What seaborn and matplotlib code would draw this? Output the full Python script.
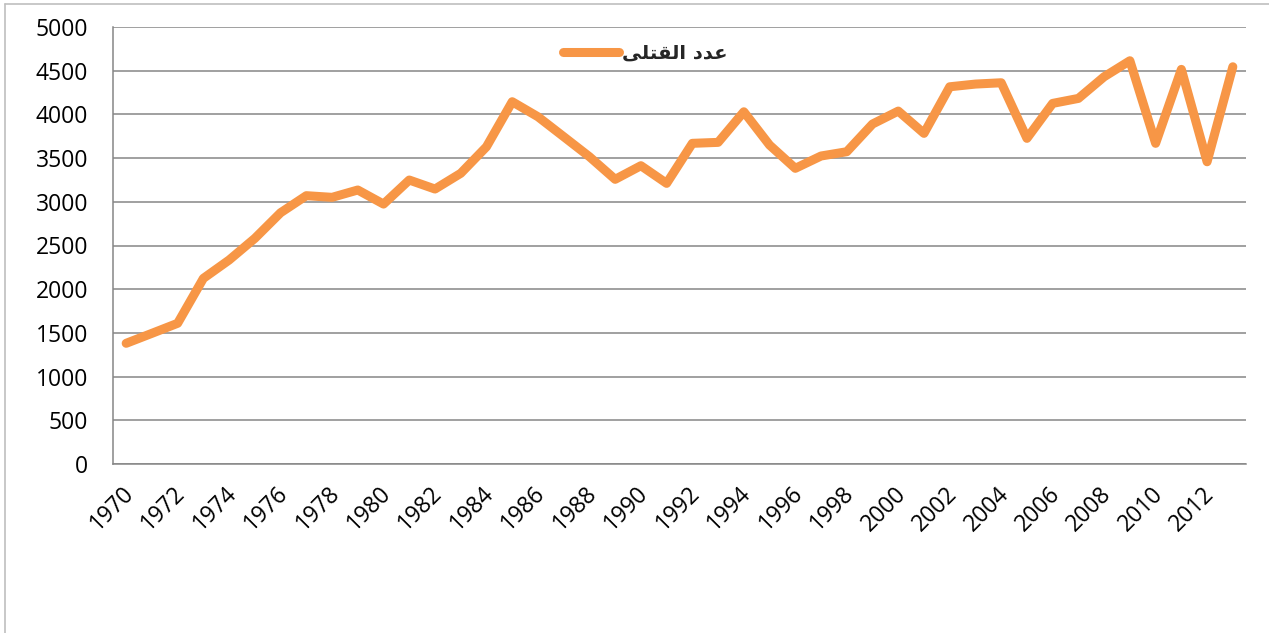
import matplotlib
matplotlib.use("Agg")
import matplotlib.pyplot as plt
import matplotlib.transforms as mtransforms
import seaborn as sns
import pandas as pd
from matplotlib.lines import Line2D

years = list(range(1970, 2014))
deaths = [1381, 1495, 1610, 2124, 2334, 2582, 2875, 3070, 3051, 3135,
          2974, 3249, 3146, 3326, 3630, 4145, 3973, 3745, 3516, 3257,
          3413, 3211, 3669, 3680, 4030, 3649, 3383, 3524, 3573, 3890,
          4038, 3783, 4316, 4347, 4362, 3726, 4126, 4183, 4431, 4614,
          3669, 4515, 3458, 4545]
y_ticks = [0, 500, 1000, 1500, 2000, 2500, 3000, 3500, 4000, 4500, 5000]
x_tick_years = list(range(1970, 2013, 2))
# "عدد القتلى" written with Arabic presentation forms in visual order
series_label = "\uFEF0\uFEE0\uFE98\uFED8\uFEDF\uFE8D \uFEA9\uFEAA\uFECB"

sns.set_theme(style="white")
plt.rcParams['font.family'] = ['Open Sans', 'DejaVu Sans']

W, H = 1269, 633
fig = plt.figure(figsize=(W / 100, H / 100), dpi=100)
left, right, top, bottom = 113.3, 1245.7, 27, 464
ax = fig.add_axes([left / W, 1 - bottom / H, (right - left) / W, (bottom - top) / H])

df = pd.DataFrame({"year": years, "deaths": deaths})
orange = "#F79646"
sns.lineplot(data=df, x="year", y="deaths", ax=ax, color=orange, linewidth=6.5,
             solid_capstyle="round", solid_joinstyle="round", legend=False)

ax.set_xlim(1969.5, 2013.5)
ax.set_ylim(0, 5000)
ax.set_yticks(y_ticks)
ax.set_yticklabels([str(v) for v in y_ticks], fontsize=16.5, color="black")
ax.set_xticks(x_tick_years)
ax.set_xticklabels([str(v) for v in x_tick_years], fontsize=16.5, color="black",
                   rotation=45, ha="right", va="center", rotation_mode="anchor")
ax.tick_params(axis="both", length=0)
ax.tick_params(axis="y", pad=18)
ax.tick_params(axis="x", pad=19)
offset = mtransforms.ScaledTranslation(4 / 100, 0, fig.dpi_scale_trans)
for lab in ax.get_xticklabels():
    lab.set_transform(lab.get_transform() + offset)
ax.set_xlabel("")
ax.set_ylabel("")

ax.grid(axis="y", color="#868686", linewidth=1.1)
ax.grid(axis="x", visible=False)
ax.set_axisbelow(True)
for s in ["top", "right"]:
    ax.spines[s].set_visible(False)
for s in ["left", "bottom"]:
    ax.spines[s].set_color("#868686")
    ax.spines[s].set_linewidth(1.1)

handle = Line2D([0], [0], color=orange, linewidth=6.5, solid_capstyle="round")
leg = ax.legend([handle], [series_label], loc="center",
                bbox_to_anchor=((645 - left) / (right - left), (bottom - 53) / (bottom - top)),
                frameon=False, handlelength=2.9, handletextpad=0.15,
                prop={"family": "DejaVu Sans", "weight": "bold", "size": 14})

# outer chart-area border
fig.add_artist(Line2D([5 / W, 5 / W], [0, 1 - 3.5 / H], color="#bfbfbf", linewidth=1.2,
                      transform=fig.transFigure))
fig.add_artist(Line2D([5 / W, 1], [1 - 3.5 / H, 1 - 3.5 / H], color="#bfbfbf", linewidth=1.2,
                      transform=fig.transFigure))

fig.savefig("out.png", dpi=100)
